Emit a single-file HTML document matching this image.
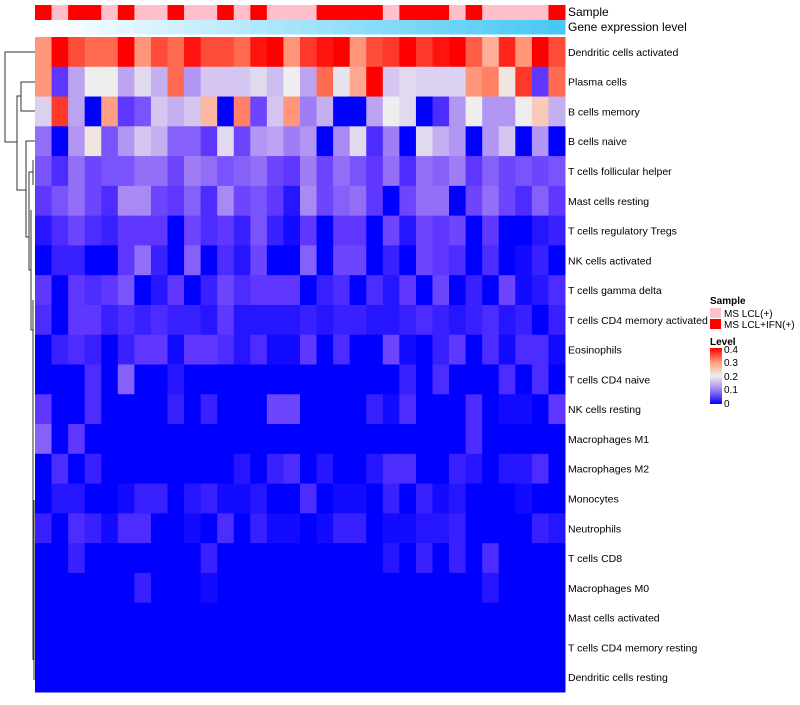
<!DOCTYPE html>
<html><head><meta charset="utf-8"><style>
body{margin:0;background:#fff;font-family:"Liberation Sans",sans-serif}
svg text{font-family:"Liberation Sans",sans-serif}
</style></head><body>
<svg id="chart" width="800" height="700" xmlns="http://www.w3.org/2000/svg">
<g id="dendro" stroke="#333" stroke-width="1" fill="none">
<path d="M35,52 H5 V142 H17"/>
<path d="M35,82 H21 V111 H35"/>
<path d="M21,96 H17 V190 H26"/>
<path d="M35,141 H26 V237 H29"/>
<path d="M29,237 V172 H33 M29,237 V270 H31"/>
<path d="M33,160 V185 M31,210 V330 H33"/>
<path d="M33,300 V480 M33,420 V660 M34,500 V680"/>
</g>
<g id="cells"></g>
<g id="labels"></g>
<text x="568" y="16" font-size="12">Sample</text>
<text x="568" y="31" font-size="12">Gene expression level</text>
<g>
<text x="710" y="304" font-size="10" font-weight="bold">Sample</text>
<rect x="710" y="308" width="11" height="10" fill="#FFC0CB"/>
<text x="724" y="317" font-size="10">MS LCL(+)</text>
<rect x="710" y="319" width="11" height="10" fill="#FF0000"/>
<text x="724" y="328" font-size="10">MS LCL+IFN(+)</text>
</g>
<g>
<defs><linearGradient id="lg" x1="0" y1="1" x2="0" y2="0">
<stop offset="0" stop-color="#0000FF"/><stop offset="0.25" stop-color="#A080F0"/><stop offset="0.5" stop-color="#EEEEEE"/><stop offset="0.75" stop-color="#FF9A7A"/><stop offset="1" stop-color="#FF0000"/></linearGradient></defs>
<text x="710" y="345" font-size="10" font-weight="bold">Level</text>
<rect x="710" y="348" width="12" height="56" fill="url(#lg)"/>
<text x="724" y="353" font-size="10">0.4</text>
<text x="724" y="366" font-size="10">0.3</text>
<text x="724" y="380" font-size="10">0.2</text>
<text x="724" y="393" font-size="10">0.1</text>
<text x="724" y="407" font-size="10">0</text>
</g>
</svg>
<script>
const rowNames=["Dendritic cells activated","Plasma cells","B cells memory","B cells naive","T cells follicular helper","Mast cells resting","T cells regulatory  Tregs","NK cells activated","T cells gamma delta","T cells CD4 memory activated","Eosinophils","T cells CD4 naive","NK cells resting","Macrophages M1","Macrophages M2","Monocytes","Neutrophils","T cells CD8","Macrophages M0","Mast cells activated","T cells CD4 memory resting","Dendritic cells resting"];
const sampleGroup=[1,0,1,1,0,1,0,0,1,0,0,1,0,1,0,0,0,1,1,1,1,0,1,1,1,0,1,0,0,0,0,1];
const geneLevel=[0,1,2,3,4,5,6,7,8,9,10,11,12,13,14,15,16,17,18,19,20,21,22,23,24,25,26,27,28,29,30,31];
const r01=[30,40,36,34,34,40,30,36,34,39,36,36,34,39,40,30,37,39,40,30,36,37,40,37,39,40,35,27,38,30,40,36];
const r02=[30,5,13,20,20,13,18,14,34,12,16,16,16,18,15,20,13,34,19,28,40,16,18,17,17,17,30,32,21,37,5,34];
const r03=[17,37,13,0,29,5,7,16,14,16,26,0,32,6,16,30,10,14,0,0,13,20,18,0,4,12,20,12,12,20,24,14];
const r04=[9,0,12,21,7,12,16,14,8,8,5,18,6,12,13,10,12,0,11,18,4,10,0,18,14,12,0,12,16,0,12,0];
const r05=[7,4,9,6,7,7,9,9,6,10,9,7,8,9,6,5,10,6,9,7,5,9,4,9,8,10,5,8,6,7,6,7];
const r06=[5,7,9,6,4,11,11,6,5,8,4,11,6,7,5,2,11,6,8,9,5,0,6,9,9,0,6,9,6,4,8,5];
const r07=[2,4,6,4,3,5,5,5,0,6,4,5,3,7,3,1,5,0,5,5,0,6,2,6,5,6,0,5,0,0,2,3];
const r08=[0,3,3,0,0,5,9,3,0,8,0,4,2,6,0,0,8,0,6,6,0,3,0,6,5,4,0,4,0,1,3,0];
const r09=[5,0,5,4,5,7,0,2,5,0,3,6,4,5,5,5,0,3,4,0,4,2,5,0,6,0,3,0,6,1,2,4];
const r10=[4,0,5,5,3,4,3,4,3,3,2,5,2,2,2,2,3,2,3,3,2,2,3,4,3,2,3,4,2,3,0,3];
const r11=[0,3,4,3,0,3,5,5,1,5,5,4,2,4,1,1,5,0,4,0,0,6,1,0,3,5,0,4,1,4,4,1];
const r12=[0,0,0,4,0,8,0,0,2,0,0,0,0,0,0,0,0,0,0,0,0,0,3,0,4,0,0,0,4,0,4,0];
const r13=[5,0,0,4,0,0,0,0,3,0,3,0,0,0,6,6,0,0,0,0,3,1,4,0,0,0,4,0,1,1,0,5];
const r14=[8,0,5,0,0,0,0,0,0,0,0,0,0,0,0,0,0,0,0,0,0,0,0,0,0,0,4,0,0,0,0,0];
const r15=[0,4,0,3,0,0,0,0,0,0,0,0,2,0,3,4,0,2,0,0,2,4,4,0,0,3,2,0,2,2,4,0];
const r16=[0,2,2,0,0,1,3,3,0,2,3,1,1,2,0,0,4,0,1,1,0,3,0,3,1,2,0,0,0,1,0,0];
const r17=[3,0,4,3,1,4,4,0,0,1,0,4,0,3,1,1,0,1,3,3,0,1,1,2,2,3,0,0,0,0,3,2];
const r18=[0,0,3,0,0,0,0,0,0,0,3,0,0,0,0,0,0,0,0,0,0,2,0,3,0,3,0,4,0,0,0,0];
const r19=[0,0,0,0,0,0,3,0,0,0,1,0,0,0,0,0,0,0,0,0,0,0,0,0,0,0,0,2,0,0,0,0];
const r20=[0,0,0,0,0,0,0,0,0,0,0,0,0,0,0,0,0,0,0,0,0,0,0,0,0,0,0,0,0,0,0,0];
const r21=[0,0,0,0,0,0,0,0,0,0,0,0,0,0,0,0,0,0,0,0,0,0,0,0,0,0,0,0,0,0,0,0];
const r22=[0,0,0,0,0,0,0,0,0,0,0,0,0,0,0,0,0,0,0,0,0,0,0,0,0,0,0,0,0,0,0,0];
const levels=[r01,r02,r03,r04,r05,r06,r07,r08,r09,r10,r11,r12,r13,r14,r15,r16,r17,r18,r19,r20,r21,r22];

const X0=35,X1=565,Y0=37,Y1=692;
const nC=sampleGroup.length,nR=rowNames.length;
const cw=(X1-X0)/nC,rh=(Y1-Y0)/nR;
const xPos=i=>X0+i*cw, yPos=j=>Y0+j*rh;
const stops=[[0,[0,0,255]],[5,[95,55,255]],[10,[160,125,245]],[15,[205,188,240]],[20,[238,238,238]],[25,[252,192,172]],[30,[255,150,122]],[35,[255,95,70]],[40,[255,0,0]]];
function col(v){v=Math.max(0,Math.min(40,v));for(let k=0;k<stops.length-1;k++){const a=stops[k],b=stops[k+1];if(v<=b[0]){const t=(v-a[0])/(b[0]-a[0]);return 'rgb('+a[1].map((c,i)=>Math.round(c+(b[1][i]-c)*t)).join(',')+')';}}return 'rgb(255,0,0)';}
const NS='http://www.w3.org/2000/svg';
const cells=document.getElementById('cells'),labels=document.getElementById('labels');
function rect(x,y,w,h,f){const r=document.createElementNS(NS,'rect');r.setAttribute('x',x);r.setAttribute('y',y);r.setAttribute('width',w+0.5);r.setAttribute('height',h+0.5);r.setAttribute('fill',f);cells.appendChild(r);return r;}
const gmax=Math.max(...geneLevel);
sampleGroup.forEach((g,i)=>{const r=rect(xPos(i),5,cw,14.5,g?'#FF0000':'#FFC0CB');

});
geneLevel.forEach((g,i)=>{const t=g/gmax;const c='rgb('+Math.round(255+(72-255)*t)+','+Math.round(255+(200-255)*t)+','+Math.round(255+(245-255)*t)+')';
const r=rect(xPos(i),20,cw,14,c);

});
levels.forEach((row,j)=>{row.forEach((v,i)=>{const r=rect(xPos(i),yPos(j),cw,rh,col(v));

});
const t=document.createElementNS(NS,'text');t.setAttribute('x',568);t.setAttribute('y',yPos(j)+rh/2+4);t.setAttribute('font-size','10.5');t.textContent=rowNames[j];


labels.appendChild(t);});
</script>
</body></html>
